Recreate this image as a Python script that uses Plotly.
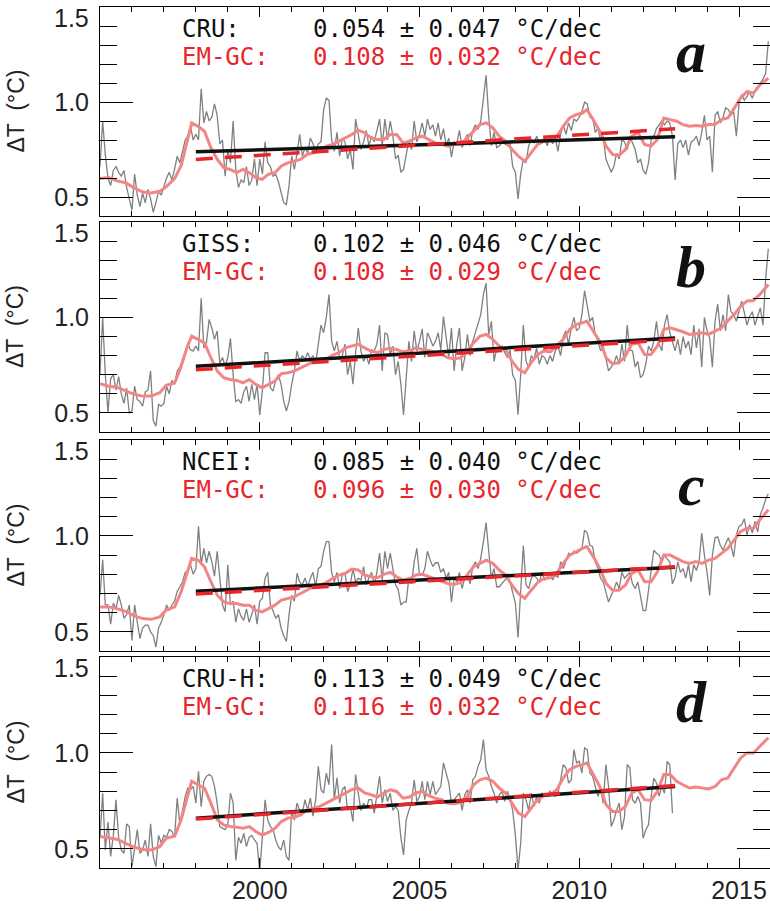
import plotly.graph_objects as go

# ---------------- data ----------------
panel_letters = ["a", "b", "c", "d"]
obs_names = ["CRU:", "GISS:", "NCEI:", "CRU-H:"]
obs_trend_text = ["0.054 ± 0.047 °C/dec", "0.102 ± 0.046 °C/dec",
                  "0.085 ± 0.040 °C/dec", "0.113 ± 0.049 °C/dec"]
model_name = "EM-GC:"
model_trend_text = ["0.108 ± 0.032 °C/dec", "0.108 ± 0.029 °C/dec",
                    "0.096 ± 0.030 °C/dec", "0.116 ± 0.032 °C/dec"]
x_tick_vals = [2000, 2005, 2010, 2015]
y_tick_vals = [0.5, 1.0, 1.5]
y_tick_text = ["0.5\u2009", "1.0\u2009", ""]

# monthly observed anomalies (start Jan 1995)
gray_a = [0.66, 0.90, 0.72, 0.60, 0.56, 0.64, 0.66, 0.63, 0.61, 0.64, 0.55, 0.48,
          0.43, 0.62, 0.51, 0.45, 0.52, 0.47, 0.54, 0.49, 0.42, 0.47, 0.53, 0.51,
          0.56, 0.60, 0.63, 0.59, 0.645, 0.715, 0.68, 0.75, 0.80, 0.82, 0.87, 0.80,
          0.83, 0.80, 1.07, 0.89, 0.95, 0.90, 0.92, 0.99, 0.93, 0.78, 0.80, 0.61,
          0.75, 0.68, 0.90, 0.645, 0.55, 0.59, 0.575, 0.66, 0.56, 0.59, 0.70, 0.56,
          0.70, 0.62, 0.79, 0.68, 0.66, 0.61, 0.62, 0.58, 0.52, 0.47, 0.46, 0.56,
          0.715, 0.645, 0.73, 0.83, 0.715, 0.76, 0.73, 0.81, 0.78, 0.74, 0.78, 0.79,
          0.96, 1.02, 1.01, 0.80, 0.74, 0.84, 0.715, 0.81, 0.79, 0.70, 0.75, 0.645,
          0.91, 0.82, 0.75, 0.79, 0.85, 0.77, 0.82, 0.79, 0.85, 0.91, 0.77, 0.91,
          0.80, 0.90, 0.82, 0.70, 0.72, 0.63, 0.645, 0.73, 0.80, 0.75, 0.90, 0.79,
          0.83, 0.89, 0.82, 0.91, 0.855, 0.88, 0.82, 0.89, 0.80, 0.86, 0.77, 0.81,
          0.71, 0.79, 0.78, 0.85, 0.76, 0.80, 0.83, 0.77, 0.85, 0.88, 0.855, 0.90,
          1.03, 1.14, 0.92, 0.77, 0.84, 0.76, 0.77, 0.785, 0.78, 0.77, 0.785, 0.66,
          0.63, 0.49, 0.62, 0.70, 0.68, 0.77, 0.80, 0.785, 0.82, 0.78, 0.785, 0.80,
          0.77, 0.82, 0.78, 0.81, 0.74, 0.83, 0.88, 0.83, 0.89, 0.85, 0.91, 0.90,
          0.92, 0.95, 1.00, 0.99, 0.92, 0.92, 0.84, 0.86, 0.80, 0.82, 0.70, 0.66,
          0.63, 0.66, 0.73, 0.70, 0.80, 0.79, 0.75, 0.82, 0.78, 0.75, 0.68, 0.70,
          0.64, 0.62, 0.68, 0.80, 0.82, 0.86, 0.88, 0.90, 0.88, 0.90, 0.89, 0.82,
          0.59, 0.78, 0.80, 0.76, 0.80, 0.72, 0.79, 0.80, 0.82, 0.77, 0.84, 0.93,
          0.80, 0.82, 0.63, 0.93, 0.95, 0.89, 0.92, 0.97, 0.96, 0.93, 0.95, 0.82,
          0.99, 1.04, 1.01, 1.03, 1.05, 1.02, 1.06, 1.07, 1.10, 1.12, 1.15, 1.32]

gray_b = [0.70, 1.00, 0.70, 0.50, 0.68, 0.70, 0.62, 0.69, 0.60, 0.55, 0.63, 0.50,
          0.51, 0.64, 0.57, 0.56, 0.535, 0.61, 0.62, 0.72, 0.46, 0.43, 0.545, 0.535,
          0.55, 0.64, 0.60, 0.67, 0.65, 0.72, 0.74, 0.78, 0.825, 0.86, 0.83, 0.825,
          0.85, 0.825, 1.10, 0.84, 0.87, 0.99, 0.945, 0.885, 0.93, 0.76, 0.79, 0.745,
          0.79, 0.89, 0.70, 0.56, 0.57, 0.55, 0.61, 0.64, 0.56, 0.65, 0.57, 0.65,
          0.49, 0.62, 0.815, 0.815, 0.63, 0.615, 0.67, 0.70, 0.65, 0.56, 0.51, 0.56,
          0.65, 0.72, 0.825, 0.77, 0.80, 0.78, 0.815, 0.78, 0.80, 0.76, 0.86, 0.96,
          0.92, 1.00, 1.12, 0.875, 0.825, 0.875, 0.78, 0.80, 0.86, 0.70, 0.77, 0.65,
          0.815, 0.945, 0.825, 0.77, 0.80, 0.755, 0.83, 0.825, 0.86, 0.96, 0.72, 0.92,
          0.91, 0.805, 0.85, 0.70, 0.77, 0.65, 0.49, 0.70, 0.875, 0.77, 0.93, 0.825,
          0.875, 0.94, 0.79, 0.92, 0.89, 0.85, 0.875, 0.92, 0.83, 1.005, 0.91, 0.79,
          0.945, 0.72, 0.86, 0.945, 0.72, 0.79, 0.91, 0.80, 0.875, 0.92, 0.96, 1.015,
          1.12, 1.18, 0.91, 0.98, 0.77, 0.84, 0.825, 0.85, 0.815, 0.79, 0.83, 0.70,
          0.67, 0.49, 0.70, 0.96, 0.77, 0.74, 0.80, 0.78, 0.84, 0.755, 0.80, 0.79,
          0.755, 0.80, 0.77, 0.825, 0.85, 0.80, 0.90, 0.93, 0.86, 0.945, 1.00, 0.93,
          0.945, 1.015, 1.14, 1.07, 0.98, 1.00, 0.91, 0.875, 0.825, 0.85, 0.78, 0.72,
          0.74, 0.76, 0.80, 0.755, 0.86, 0.77, 0.96, 0.83, 0.825, 0.74, 0.77, 0.685,
          0.70, 0.755, 0.85, 0.825, 0.875, 0.98, 0.86, 0.825, 0.96, 1.015, 0.92, 0.875,
          0.825, 0.885, 0.805, 0.90, 0.84, 0.875, 0.805, 0.96, 0.84, 0.94, 0.74, 1.00,
          0.93, 0.89, 0.74, 0.98, 1.07, 0.93, 1.015, 0.93, 1.12, 1.03, 1.015, 0.98,
          1.04, 1.085, 1.025, 0.96, 1.005, 1.03, 0.96, 1.005, 1.05, 0.96, 1.20, 1.36]

gray_c = [0.69, 0.875, 0.64, 0.64, 0.54, 0.65, 0.62, 0.69, 0.64, 0.57, 0.59, 0.64,
          0.455, 0.64, 0.55, 0.465, 0.52, 0.535, 0.535, 0.50, 0.48, 0.42, 0.52, 0.55,
          0.59, 0.64, 0.61, 0.64, 0.66, 0.71, 0.735, 0.76, 0.81, 0.82, 0.85, 0.80,
          0.83, 1.05, 0.85, 0.935, 0.86, 0.92, 0.865, 0.79, 0.92, 0.76, 0.64, 0.605,
          0.85, 0.64, 0.66, 0.55, 0.62, 0.58, 0.56, 0.62, 0.55, 0.59, 0.64, 0.54,
          0.66, 0.675, 0.78, 0.81, 0.64, 0.61, 0.57, 0.59, 0.52, 0.48, 0.45, 0.59,
          0.69, 0.66, 0.805, 0.76, 0.745, 0.78, 0.735, 0.78, 0.81, 0.735, 0.83, 0.84,
          0.92, 0.97, 0.97, 0.81, 0.76, 0.81, 0.725, 0.795, 0.81, 0.71, 0.745, 0.83,
          0.76, 0.78, 0.77, 0.84, 0.745, 0.78, 0.81, 0.745, 0.81, 0.91, 0.77, 0.92,
          0.83, 0.91, 0.83, 0.745, 0.72, 0.64, 0.655, 0.655, 0.78, 0.75, 0.865, 0.935,
          0.795, 0.795, 0.83, 0.92, 0.875, 0.84, 0.86, 0.86, 0.81, 0.83, 0.78, 0.81,
          0.655, 0.78, 0.76, 0.81, 0.725, 0.78, 0.795, 0.75, 0.84, 0.865, 0.83, 0.883,
          0.97, 1.07, 0.92, 0.78, 0.83, 0.735, 0.735, 0.75, 0.77, 0.785, 0.76, 0.71,
          0.65, 0.47, 0.71, 0.95, 0.745, 0.725, 0.78, 0.795, 0.78, 0.76, 0.81, 0.77,
          0.78, 0.81, 0.77, 0.795, 0.785, 0.865, 0.83, 0.865, 0.91, 0.90, 0.92, 0.91,
          0.92, 0.935, 1.03, 1.015, 0.95, 0.945, 0.865, 0.83, 0.78, 0.76, 0.71, 0.655,
          0.69, 0.72, 0.76, 0.725, 0.81, 0.78, 0.795, 0.81, 0.75, 0.725, 0.76, 0.675,
          0.61, 0.61, 0.71, 0.82, 0.925, 0.91, 0.90, 0.865, 0.90, 0.88, 0.865, 0.75,
          0.785, 0.865, 0.81, 0.83, 0.78, 0.85, 0.76, 0.85, 0.82, 0.865, 1.015, 0.90,
          0.81, 0.69, 0.90, 0.99, 0.995, 0.95, 0.925, 0.96, 0.99, 0.95, 0.89, 1.005,
          1.05, 1.058, 1.09, 1.005, 1.058, 1.015, 1.075, 1.02, 1.11, 1.145, 1.19, 1.22]

gray_d = [0.56, 0.79, 0.494, 0.64, 0.46, 0.57, 0.756, 0.56, 0.494, 0.477, 0.63, 0.616,
          0.407, 0.494, 0.60, 0.477, 0.494, 0.546, 0.46, 0.63, 0.46, 0.407, 0.57, 0.53,
          0.57, 0.56, 0.60, 0.59, 0.56, 0.765, 0.63, 0.70, 0.773, 0.817, 0.808, 0.826,
          0.738, 0.904, 0.72, 0.852, 0.878, 0.887, 0.878, 0.826, 0.738, 0.616, 0.607, 0.60,
          0.625, 0.79, 0.738, 0.44, 0.56, 0.529, 0.581, 0.512, 0.56, 0.57, 0.546, 0.529,
          0.38, 0.58, 0.756, 0.65, 0.616, 0.60, 0.546, 0.51, 0.494, 0.546, 0.46, 0.44,
          0.70, 0.65, 0.738, 0.70, 0.686, 0.756, 0.70, 0.765, 0.67, 0.756, 0.93, 0.808,
          0.79, 0.895, 0.834, 1.044, 0.756, 0.87, 0.738, 0.808, 0.826, 0.70, 0.72, 0.642,
          0.887, 0.79, 0.70, 0.738, 0.712, 0.756, 0.756, 0.686, 0.79, 0.878, 0.738, 0.808,
          0.747, 0.79, 0.70, 0.72, 0.70, 0.56, 0.468, 0.65, 0.70, 0.738, 0.86, 0.747,
          0.773, 0.852, 0.756, 0.852, 0.782, 0.852, 0.782, 0.808, 0.826, 0.948, 0.895, 0.843,
          0.738, 0.756, 0.773, 0.79, 0.70, 0.782, 0.808, 0.738, 0.86, 0.878, 0.93, 0.965,
          1.07, 0.913, 0.878, 0.826, 0.79, 0.738, 0.782, 0.80, 0.747, 0.80, 0.756, 0.70,
          0.573, 0.39, 0.529, 0.79, 0.756, 0.70, 0.79, 0.72, 0.773, 0.738, 0.79, 0.782,
          0.773, 0.80, 0.782, 0.773, 0.79, 0.86, 0.939, 0.922, 0.843, 0.86, 1.017, 0.948,
          0.956, 0.895, 1.026, 1.017, 0.895, 0.878, 0.826, 0.773, 0.808, 0.738, 0.939, 0.826,
          0.616, 0.65, 0.70, 0.738, 0.60, 0.668, 0.939, 0.922, 0.756, 0.738, 0.773, 0.738,
          0.555, 0.60, 0.625, 0.773, 0.869, 0.843, 0.773, 0.826, 0.79, 0.956, 0.939, 0.686]

# EM-GC model (time axis)
model_t = ([1995.0, 1995.27, 1995.53, 1995.8, 1996.07, 1996.34, 1996.6, 1996.87,
            1997.07, 1997.34, 1997.54, 1997.74, 1997.87]
           + [round(1998.07 + 0.2005 * k, 3) for k in range(61)]
           + [2010.24]
           + [round(2010.44 + 0.2005 * k, 3) for k in range(27)]
           + [2015.92])

pink_a = ([0.597, 0.602, 0.585, 0.575, 0.548, 0.526, 0.521, 0.530, 0.553, 0.598, 0.665, 0.80, 0.89]
          + [0.872, 0.846, 0.759, 0.698, 0.654, 0.645, 0.628, 0.645, 0.628, 0.602, 0.593, 0.62,
             0.628, 0.663, 0.68, 0.689, 0.698, 0.724, 0.733, 0.742, 0.768, 0.777, 0.794, 0.811,
             0.829, 0.852, 0.838, 0.811, 0.803, 0.803, 0.829, 0.829, 0.785, 0.794, 0.811, 0.82,
             0.803, 0.785, 0.777, 0.768, 0.777, 0.777, 0.811, 0.846, 0.881, 0.89, 0.864, 0.82,
             0.794, 0.75, 0.715, 0.689, 0.733, 0.777, 0.794, 0.803, 0.82, 0.872, 0.916, 0.933, 0.942]
          + [0.96]
          + [0.907, 0.846, 0.768, 0.724, 0.719, 0.75, 0.82, 0.838, 0.777, 0.768, 0.803, 0.916,
             0.907, 0.899, 0.881, 0.872, 0.876, 0.872, 0.881, 0.881, 0.907, 0.916, 0.968, 1.021,
             1.056, 1.047, 1.09]
          + [1.125])

pink_b = ([0.653, 0.64, 0.635, 0.614, 0.597, 0.588, 0.588, 0.606, 0.644, 0.658, 0.745, 0.85, 0.902]
          + [0.885, 0.867, 0.789, 0.719, 0.684, 0.675, 0.67, 0.658, 0.675, 0.649, 0.632, 0.649,
             0.667, 0.705, 0.71, 0.719, 0.736, 0.754, 0.768, 0.771, 0.78, 0.803, 0.815, 0.841,
             0.85, 0.859, 0.841, 0.824, 0.815, 0.832, 0.838, 0.832, 0.82, 0.824, 0.841, 0.832,
             0.827, 0.815, 0.806, 0.789, 0.784, 0.789, 0.824, 0.867, 0.902, 0.911, 0.885, 0.85,
             0.832, 0.771, 0.728, 0.71, 0.763, 0.806, 0.824, 0.82, 0.85, 0.885, 0.937, 0.963, 0.972]
          + [0.981]
          + [0.928, 0.876, 0.789, 0.757, 0.763, 0.798, 0.859, 0.867, 0.806, 0.806, 0.85, 0.937,
             0.946, 0.937, 0.925, 0.911, 0.915, 0.92, 0.911, 0.928, 0.946, 0.981, 1.016, 1.059,
             1.086, 1.089, 1.12]
          + [1.173])

pink_c = ([0.63, 0.63, 0.621, 0.607, 0.583, 0.569, 0.565, 0.578, 0.613, 0.63, 0.709, 0.813, 0.883]
          + [0.874, 0.839, 0.761, 0.691, 0.656, 0.647, 0.647, 0.639, 0.639, 0.613, 0.604, 0.621,
             0.639, 0.665, 0.674, 0.682, 0.70, 0.717, 0.735, 0.743, 0.757, 0.778, 0.796, 0.805,
             0.827, 0.822, 0.796, 0.787, 0.782, 0.80, 0.81, 0.787, 0.77, 0.778, 0.796, 0.80,
             0.787, 0.778, 0.761, 0.752, 0.747, 0.757, 0.796, 0.839, 0.857, 0.874, 0.857, 0.822,
             0.796, 0.743, 0.70, 0.674, 0.717, 0.757, 0.778, 0.782, 0.805, 0.857, 0.90, 0.918, 0.935]
          + [0.944]
          + [0.892, 0.831, 0.752, 0.717, 0.717, 0.743, 0.805, 0.822, 0.761, 0.761, 0.813, 0.90,
             0.90, 0.883, 0.866, 0.857, 0.866, 0.857, 0.874, 0.883, 0.909, 0.935, 0.979, 1.023,
             1.04, 1.04, 1.084]
          + [1.136])

pink_d = ([0.564, 0.555, 0.55, 0.529, 0.508, 0.497, 0.494, 0.511, 0.555, 0.567, 0.651, 0.773, 0.852]
          + [0.834, 0.817, 0.738, 0.651, 0.625, 0.616, 0.613, 0.607, 0.616, 0.59, 0.572, 0.585,
             0.607, 0.642, 0.66, 0.665, 0.677, 0.703, 0.712, 0.721, 0.738, 0.756, 0.773, 0.794,
             0.808, 0.817, 0.791, 0.782, 0.77, 0.791, 0.808, 0.799, 0.764, 0.77, 0.791, 0.799,
             0.777, 0.764, 0.756, 0.738, 0.735, 0.742, 0.773, 0.834, 0.86, 0.869, 0.852, 0.817,
             0.791, 0.738, 0.686, 0.668, 0.712, 0.756, 0.777, 0.782, 0.808, 0.869, 0.913, 0.93, 0.939]
          + [0.948]
          + [0.887, 0.825, 0.729, 0.695, 0.695, 0.721, 0.791, 0.808, 0.756, 0.752, 0.799, 0.887,
             0.887, 0.852, 0.834, 0.817, 0.822, 0.817, 0.812, 0.825, 0.86, 0.869, 0.921, 0.974,
             1.0, 1.0, 1.035]
          + [1.079])

# linear trends 1998-2013 (endpoints)
trend_t = [1998.0, 2013.0]
obs_trend = [[0.738, 0.817], [0.744, 0.893], [0.712, 0.836], [0.660, 0.825]]
model_trend = [[0.698, 0.859], [0.726, 0.884], [0.697, 0.839], [0.655, 0.830]]

gray_series = [gray_a, gray_b, gray_c, gray_d]
pink_series = [pink_a, pink_b, pink_c, pink_d]

# ---------------- styling ----------------
W, H = 770, 911
ML, MR, MT, MB = 100, 0, 7, 43
PW = W - ML - MR
panel_px = [(7, 216), (222, 432), (440, 651), (657, 868)]  # top, bottom in page px
plot_h = H - MT - MB
XRANGE = [1995.0, 2015.97]
YRANGE = [0.4, 1.5]

GRAY = "#808080"
PINK = "#f28686"
RED = "#e8262c"
BLACK = "#111111"
AXC = "black"
TICKFONT = dict(family="Liberation Sans, Arial, sans-serif", size=25, color="#222222")
TXTFONT = "DejaVu Sans Mono, monospace"

fig = go.Figure()
annotations = []
for i in range(4):
    n = i + 1
    xa = "x" if i == 0 else f"x{n}"
    ya = "y" if i == 0 else f"y{n}"

    gray = gray_series[i]
    gt = [1995 + m / 12 for m in range(len(gray))]
    fig.add_trace(go.Scatter(x=gt, y=gray, mode="lines", line=dict(color=GRAY, width=1.3),
                             xaxis=xa, yaxis=ya, showlegend=False, hoverinfo="skip"))
    fig.add_trace(go.Scatter(x=model_t, y=pink_series[i], mode="lines",
                             line=dict(color=PINK, width=3), xaxis=xa, yaxis=ya,
                             showlegend=False, hoverinfo="skip"))
    fig.add_trace(go.Scatter(x=trend_t, y=obs_trend[i], mode="lines",
                             line=dict(color=BLACK, width=3.5), xaxis=xa, yaxis=ya,
                             showlegend=False, hoverinfo="skip"))
    fig.add_trace(go.Scatter(x=trend_t, y=model_trend[i], mode="lines",
                             line=dict(color=RED, width=3.5, dash="17px,12px"), xaxis=xa, yaxis=ya,
                             showlegend=False, hoverinfo="skip"))

    top, bot = panel_px[i]
    dom = [(H - MB - bot) / plot_h, (H - MB - top) / plot_h]
    ph = bot - top
    xkey = "xaxis" if i == 0 else f"xaxis{n}"
    ykey = "yaxis" if i == 0 else f"yaxis{n}"
    fig.layout[xkey] = dict(domain=[0, 1], range=XRANGE, anchor=ya,
                            tickvals=x_tick_vals,
                            ticks="inside", ticklen=10, tickcolor=AXC,
                            showline=True, linecolor=AXC, mirror="ticks",
                            minor=dict(ticks="inside", ticklen=5, dtick=1, tickcolor=AXC),
                            showticklabels=(i == 3), tickfont=TICKFONT)
    fig.layout[ykey] = dict(domain=dom, range=YRANGE, anchor=xa,
                            tickvals=y_tick_vals, ticktext=y_tick_text,
                            ticks="inside", ticklen=33, tickcolor=AXC,
                            showline=True, linecolor=AXC, mirror="ticks",
                            minor=dict(ticks="inside", ticklen=17, dtick=0.1, tick0=0,
                                       tickcolor=AXC),
                            tickfont=TICKFONT)

    yref = f"{ya} domain"

    def fy(px):
        return 1 - px / ph
    annotations += [
        dict(text=obs_names[i], x=(180 - ML) / PW, y=fy(22), xref="paper", yref=yref,
             xanchor="left", yanchor="middle", showarrow=False,
             font=dict(family=TXTFONT, size=24, color="#111111")),
        dict(text=obs_trend_text[i], x=(604 - ML) / PW, y=fy(22), xref="paper", yref=yref,
             xanchor="right", yanchor="middle", showarrow=False,
             font=dict(family=TXTFONT, size=24, color="#111111")),
        dict(text=model_name, x=(180 - ML) / PW, y=fy(50), xref="paper", yref=yref,
             xanchor="left", yanchor="middle", showarrow=False,
             font=dict(family=TXTFONT, size=24, color=RED)),
        dict(text=model_trend_text[i], x=(604 - ML) / PW, y=fy(50), xref="paper", yref=yref,
             xanchor="right", yanchor="middle", showarrow=False,
             font=dict(family=TXTFONT, size=24, color=RED)),
        dict(text=f"<b><i>{panel_letters[i]}</i></b>", x=(691 - ML) / PW, y=fy(45),
             xref="paper", yref=yref, xanchor="center", yanchor="middle", showarrow=False,
             font=dict(family="Liberation Serif, Times New Roman, serif", size=60, color="#111111")),
        dict(text="1.5", x=(91 - ML) / PW, y=fy(11), xref="paper", yref=yref,
             xanchor="right", yanchor="middle", showarrow=False, font=TICKFONT),
        dict(text="ΔT  (°C)", x=(15 - ML) / PW, y=0.5, xref="paper", yref=yref,
             xanchor="center", yanchor="middle", textangle=-90, showarrow=False,
             font=dict(family="Liberation Sans, Arial, sans-serif", size=23, color="#222222")),
    ]

fig.update_layout(width=W, height=H, margin=dict(l=ML, r=MR, t=MT, b=MB),
                  paper_bgcolor="white", plot_bgcolor="white",
                  annotations=annotations, showlegend=False)

fig.write_html("out.html")
